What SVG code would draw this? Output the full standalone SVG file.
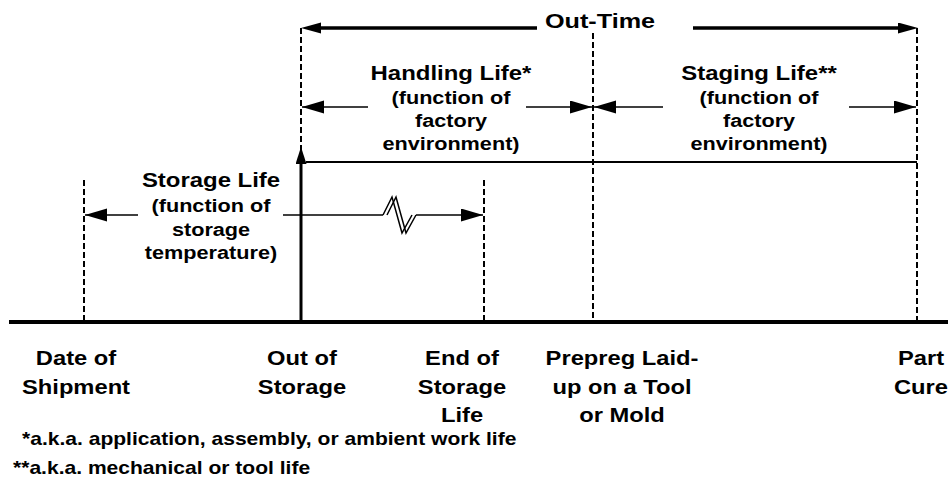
<svg xmlns="http://www.w3.org/2000/svg" width="948" height="499" viewBox="0 0 948 499">
<style>
text{font-family:"Liberation Sans",Arial,sans-serif;font-weight:bold;fill:#000}
.t{font-size:21px;text-anchor:middle}
.s{font-size:19px;text-anchor:middle}
.b{font-size:21px;text-anchor:middle}
.f{font-size:18px;text-anchor:start}
.dash{stroke:#000;stroke-width:2;stroke-dasharray:6,3;fill:none}
.thin{stroke:#000;stroke-width:1.5;fill:none}
.thick{stroke:#000;stroke-width:4;fill:none}
</style>
<defs>
<marker id="ah" markerUnits="userSpaceOnUse" markerWidth="24" markerHeight="14" refX="22" refY="6.5" orient="auto">
<path d="M0,0 L22,6.5 L0,13 Z" fill="#000"/>
</marker>
<marker id="ahT" markerUnits="userSpaceOnUse" markerWidth="22" markerHeight="12" refX="10" refY="5.5" orient="auto">
<path d="M0,0 L20,5.5 L0,11 Z" fill="#000"/>
</marker>
<marker id="ahV" markerUnits="userSpaceOnUse" markerWidth="18" markerHeight="12" refX="8" refY="5.5" orient="auto">
<path d="M0,0 L17,5.5 L0,11 Z" fill="#000"/>
</marker>
</defs>
<rect width="948" height="499" fill="#fff"/>

<g id="connectors">
<line class="thick" x1="9" y1="322" x2="948" y2="322"/>
<line class="dash" x1="84" y1="180" x2="84" y2="320"/>
<line class="dash" x1="301" y1="28" x2="301" y2="150"/>
<line class="dash" x1="484" y1="180" x2="484" y2="320"/>
<line class="dash" x1="593" y1="33" x2="593" y2="320"/>
<line class="dash" x1="917" y1="28" x2="917" y2="320"/>
<line stroke="#000" stroke-width="3.5" x1="537" y1="28" x2="311" y2="28" marker-end="url(#ahT)"/>
<line stroke="#000" stroke-width="3.5" x1="693" y1="28" x2="908" y2="28" marker-end="url(#ahT)"/>
<line class="thin" x1="368" y1="107" x2="302" y2="107" marker-end="url(#ah)"/>
<line class="thin" x1="526" y1="107" x2="592" y2="107" marker-end="url(#ah)"/>
<line class="thin" x1="663" y1="107" x2="594" y2="107" marker-end="url(#ah)"/>
<line class="thin" x1="849" y1="107" x2="916" y2="107" marker-end="url(#ah)"/>
<line stroke="#000" stroke-width="2" x1="306" y1="162" x2="917" y2="162"/>
<line stroke="#000" stroke-width="3" x1="301" y1="322" x2="301" y2="156" marker-end="url(#ahV)"/>
<line class="thin" x1="138" y1="215" x2="85" y2="215" marker-end="url(#ah)"/>
<line class="thin" x1="283" y1="215" x2="383" y2="215"/>
<line class="thin" x1="416" y1="215" x2="483" y2="215" marker-end="url(#ah)"/>
<polygon points="383,215 392,197 396,197 406,233 402,233 392,197" fill="#fff" stroke="none"/>
<polygon points="392,197 396,197 406,233 416,215 412,215 402,233" fill="#fff" stroke="none"/>
<polyline class="thin" points="383,215 392,197 402,233 412,215"/>
<polyline class="thin" points="387,215 396,197 406,233 416,215"/>
</g>

<g id="out-time">
<text class="t" transform="translate(600,0) scale(1.2,1)" x="0" y="28">Out-Time</text>
</g>

<g id="handling-life">
<g transform="translate(451,0) scale(1.14,1)">
<text class="t" x="0" y="80">Handling Life*</text>
<text class="s" x="0" y="104">(function of</text>
<text class="s" x="0" y="127">factory</text>
<text class="s" x="0" y="150">environment)</text>
</g>
</g>

<g id="staging-life">
<g transform="translate(759,0) scale(1.14,1)">
<text class="t" x="0" y="80">Staging Life**</text>
<text class="s" x="0" y="104">(function of</text>
<text class="s" x="0" y="127">factory</text>
<text class="s" x="0" y="150">environment)</text>
</g>
</g>

<g id="storage-life">
<g transform="translate(211,0) scale(1.14,1)">
<text class="t" x="0" y="187">Storage Life</text>
<text class="s" x="0" y="212">(function of</text>
<text class="s" x="0" y="236">storage</text>
<text class="s" x="0" y="259">temperature)</text>
</g>
</g>

<g id="date-of-shipment">
<g transform="translate(76,0) scale(1.13,1)">
<text class="b" x="0" y="365">Date of</text>
<text class="b" x="0" y="394">Shipment</text>
</g>
</g>

<g id="out-of-storage">
<g transform="translate(302,0) scale(1.13,1)">
<text class="b" x="0" y="365">Out of</text>
<text class="b" x="0" y="394">Storage</text>
</g>
</g>

<g id="end-of-storage-life">
<g transform="translate(462,0) scale(1.13,1)">
<text class="b" x="0" y="365">End of</text>
<text class="b" x="0" y="394">Storage</text>
<text class="b" x="0" y="422">Life</text>
</g>
</g>

<g id="prepreg-laid-up">
<g transform="translate(622,0) scale(1.13,1)">
<text class="b" x="0" y="365">Prepreg Laid-</text>
<text class="b" x="0" y="394">up on a Tool</text>
<text class="b" x="0" y="422">or Mold</text>
</g>
</g>

<g id="part-cure">
<g transform="translate(921,0) scale(1.13,1)">
<text class="b" x="0" y="365">Part</text>
<text class="b" x="0" y="394">Cure</text>
</g>
</g>

<g id="footnotes">
<g transform="translate(22,0) scale(1.17,1)">
<text class="f" x="0" y="445">*a.k.a. application, assembly, or ambient work life</text>
</g>
<g transform="translate(13,0) scale(1.17,1)">
<text class="f" x="0" y="474">**a.k.a. mechanical or tool life</text>
</g>
</g>
</svg>
